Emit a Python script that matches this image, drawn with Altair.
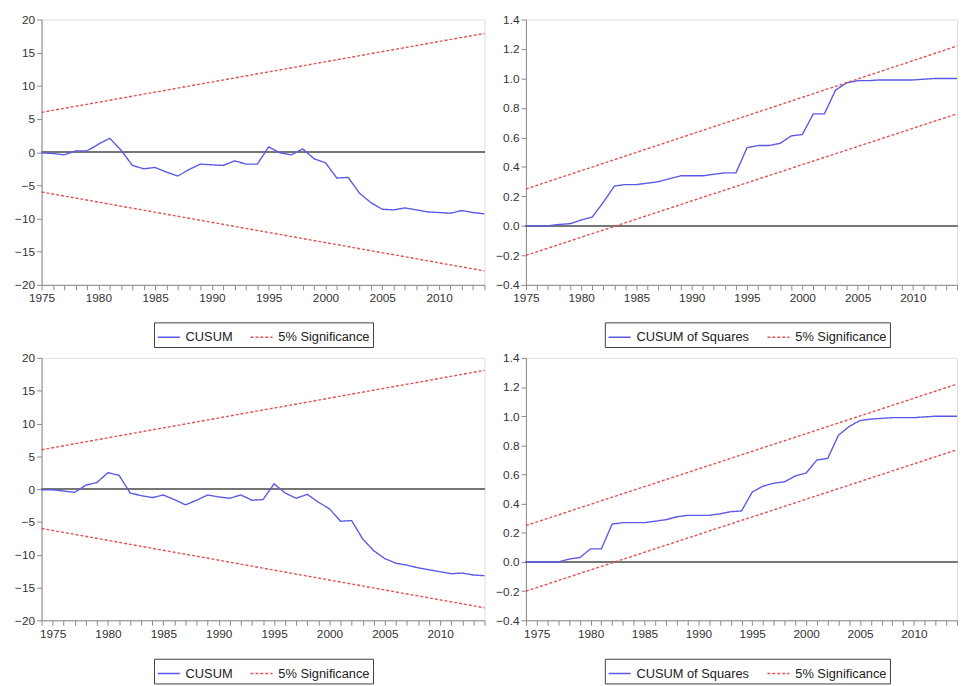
import altair as alt
import pandas as pd

# ---------------- data ----------------
years_top = list(range(1975, 2015))
cusum_top = [-0.1, -0.2, -0.4, 0.2, 0.2, 1.2, 2.1, 0.3, -2.0, -2.5,
             -2.3, -3.0, -3.6, -2.6, -1.8, -1.9, -2.0, -1.3, -1.8, -1.8,
             0.8, -0.1, -0.4, 0.5, -1.0, -1.6, -3.9, -3.8, -6.2, -7.6,
             -8.6, -8.7, -8.4, -8.7, -9.0, -9.1, -9.2, -8.8, -9.1, -9.3]
cusumsq_top = [0.0, 0.0, 0.0, 0.01, 0.015, 0.04, 0.06, 0.16, 0.27, 0.28,
               0.28, 0.29, 0.30, 0.32, 0.34, 0.34, 0.34, 0.35, 0.36, 0.36,
               0.53, 0.545, 0.545, 0.56, 0.61, 0.62, 0.76, 0.76, 0.92, 0.97,
               0.985, 0.985, 0.99, 0.99, 0.99, 0.99, 0.995, 1.0, 1.0, 1.0]

years_bot = list(range(1974, 2015))
cusum_bot = [-0.1, -0.1, -0.3, -0.5, 0.6, 1.0, 2.5, 2.1, -0.6, -1.0, -1.3,
             -0.9, -1.6, -2.4, -1.7, -0.9, -1.2, -1.4, -0.9, -1.7, -1.6,
             0.8, -0.6, -1.4, -0.8, -2.0, -3.0, -4.9, -4.8, -7.6, -9.4,
             -10.6, -11.3, -11.6, -12.0, -12.3, -12.6, -12.9, -12.8, -13.1, -13.2]
cusumsq_bot = [0.0, 0.0, 0.0, 0.0, 0.02, 0.03, 0.09, 0.09, 0.26, 0.27, 0.27,
               0.27, 0.28, 0.29, 0.31, 0.32, 0.32, 0.32, 0.33, 0.345, 0.35,
               0.48, 0.52, 0.54, 0.55, 0.59, 0.61, 0.70, 0.71, 0.87, 0.93,
               0.97, 0.98, 0.985, 0.99, 0.99, 0.99, 0.995, 1.0, 1.0, 1.0]

# 5% significance bounds (straight lines: start and end values)
bound_years_top = [1975, 2014]
cusum_upper_top = [6.0, 17.9]
cusum_lower_top = [-6.0, -17.9]
sq_upper_top = [0.25, 1.22]
sq_lower_top = [-0.2, 0.76]

bound_years_bot = [1974, 2014]
cusum_upper_bot = [6.0, 18.1]
cusum_lower_bot = [-6.0, -18.1]
sq_upper_bot = [0.25, 1.22]
sq_lower_bot = [-0.2, 0.77]

cusum_ticks = [-20, -15, -10, -5, 0, 5, 10, 15, 20]
sq_ticks = [-0.4, -0.2, 0.0, 0.2, 0.4, 0.6, 0.8, 1.0, 1.2, 1.4]

SIG = "5% Significance"

# ---------------- styling ----------------
BLUE = "#5a5ae6"
RED = "#e05252"
AXIS = "#404040"
FONT = "Liberation Sans"
FS = 12


def panel(years, values, name, byears, upper, lower, xdomain, ydomain, yticks,
          yfmt, width, height, lx, ly):
    rows = []
    for yr, v in zip(years, values):
        rows.append({"year": yr, "value": v, "series": name, "part": "main"})
    for yr, v in zip(byears, upper):
        rows.append({"year": yr, "value": v, "series": SIG, "part": "upper"})
    for yr, v in zip(byears, lower):
        rows.append({"year": yr, "value": v, "series": SIG, "part": "lower"})
    df = pd.DataFrame(rows)

    xticks = list(range(xdomain[0], xdomain[1] + 1))
    xscale = alt.Scale(domain=xdomain, nice=False, zero=False)
    xaxis = alt.Axis(values=xticks, format="d",
                     labelExpr="datum.value % 5 == 0 ? datum.label : ''",
                     title=None, grid=False, tickSize=5,
                     labelFlush=False, labelOverlap=False,
                     labelPadding=3, labelFontSize=FS, labelFont=FONT,
                     labelColor="#333333")
    yscale = alt.Scale(domain=ydomain, nice=False, zero=False)
    yaxis = alt.Axis(values=yticks, format=yfmt, title=None,
                     grid=False, tickSize=5, labelPadding=2,
                     labelOverlap=False, labelFlush=False,
                     labelFontSize=FS, labelFont=FONT,
                     labelColor="#333333")
    leg = alt.Legend(title=None, orient="none", legendX=lx, legendY=ly,
                     direction="horizontal", strokeColor=AXIS, padding=3,
                     symbolType="stroke", symbolSize=500,
                     symbolStrokeWidth=1.5, labelFontSize=13, labelFont=FONT,
                     labelColor="#222222", columnPadding=14, labelOffset=5,
                     fillColor="white")
    dom = [name, SIG]
    zero = alt.Chart(df).mark_rule(color="#767676", strokeWidth=1.5).encode(
        y=alt.YDatum(0, scale=yscale, axis=yaxis)
    )
    lines = alt.Chart(df).mark_line(strokeWidth=1.4).encode(
        x=alt.X("year:Q", scale=xscale, axis=xaxis),
        y=alt.Y("value:Q", scale=yscale, axis=yaxis),
        color=alt.Color("series:N", scale=alt.Scale(domain=dom, range=[BLUE, RED]),
                        legend=leg),
        strokeDash=alt.StrokeDash("series:N",
                                  scale=alt.Scale(domain=dom, range=[[1, 0], [3, 2]]),
                                  legend=leg),
        detail="part:N",
    )
    return alt.layer(zero, lines).properties(width=width, height=height)


p1 = panel(years_top, cusum_top, "CUSUM", bound_years_top, cusum_upper_top,
           cusum_lower_top, [1975, 2014], [-20, 20], cusum_ticks, "d",
           449, 269, 114, 307)
p2 = panel(years_top, cusumsq_top, "CUSUM of Squares", bound_years_top,
           sq_upper_top, sq_lower_top, [1975, 2014], [-0.4, 1.4], sq_ticks,
           ".1f", 437, 269, 80, 307)
p3 = panel(years_bot, cusum_bot, "CUSUM", bound_years_bot, cusum_upper_bot,
           cusum_lower_bot, [1974, 2014], [-20, 20], cusum_ticks, "d",
           449, 266, 114, 305)
p4 = panel(years_bot, cusumsq_bot, "CUSUM of Squares", bound_years_bot,
           sq_upper_bot, sq_lower_bot, [1974, 2014], [-0.4, 1.4], sq_ticks,
           ".1f", 437, 266, 80, 305)

top = alt.hconcat(p1, p2, spacing=6).resolve_scale(
    color="independent", strokeDash="independent").resolve_legend(
    color="independent", strokeDash="independent")
bot = alt.hconcat(p3, p4, spacing=6).resolve_scale(
    color="independent", strokeDash="independent").resolve_legend(
    color="independent", strokeDash="independent")

chart = alt.vconcat(top, bot, spacing=3).resolve_scale(
    color="independent", strokeDash="independent").resolve_legend(
    color="independent", strokeDash="independent").properties(
    padding={"left": 6, "top": 0, "right": 0, "bottom": 0}
).configure_view(
    stroke=AXIS, strokeWidth=1.5
).configure_axis(
    domainColor=AXIS, tickColor=AXIS, labelColor="#333333",
    labelFont=FONT, labelFontSize=FS, domainWidth=1.5, tickWidth=1
).configure(background="white")

chart.save("out.html", embed_options={"renderer": "svg", "actions": False})
